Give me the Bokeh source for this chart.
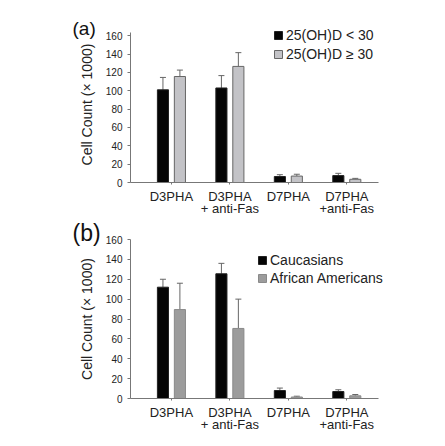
from bokeh.plotting import figure
from bokeh.models import (Whisker, TeeHead, ColumnDataSource, Legend, LegendItem,
                          Title, FixedTicker, Range1d)
from bokeh.layouts import column
from bokeh.embed import file_html
from bokeh.resources import INLINE

# ---------------- data ----------------
categories = ["D3PHA", "D3PHA\n+ anti-Fas", "D7PHA", "D7PHA\n+anti-Fas"]
y_ticks = [0, 20, 40, 60, 80, 100, 120, 140, 160]

a_low_vals = [101, 103, 6.5, 7.5]
a_low_err = [114.5, 116.5, 8.5, 10]
a_high_vals = [115.5, 126.5, 7, 3.5]
a_high_err = [122.5, 141.5, 9, 4.5]
a_names = ["25(OH)D < 30", "25(OH)D \u2265 30"]

b_cau_vals = [112, 125.5, 8, 7]
b_cau_err = [120, 136, 10.5, 8.8]
b_afr_vals = [89.5, 70.5, 1.5, 2.7]
b_afr_err = [116, 100, 2.3, 4]
b_names = ["Caucasians", "African Americans"]

FONT = "Liberation Sans"
OFF = 0.145
BW = 0.19


def make_panel(height, top, bottom, ymax, ybound, v1, e1, v2, e2, names, c2, c2line,
               leg_xy, leg_spacing, tag, tag_size, tag_standoff):
    p = figure(width=438, height=height, output_backend="svg",
               toolbar_location=None, title=None,
               x_range=Range1d(-0.2, 4.35), y_range=Range1d(0, ymax),
               min_border_left=130, min_border_right=42,
               min_border_top=top, min_border_bottom=bottom)
    p.outline_line_color = None
    p.xgrid.grid_line_color = None
    p.ygrid.grid_line_color = None
    p.background_fill_color = "white"

    p.add_layout(Title(text=tag, align="left", offset=-58,
                       standoff=tag_standoff, text_font=FONT,
                       text_font_size=tag_size, text_font_style="normal",
                       text_color="#111111"), "above")

    centers = [i + 0.5 for i in range(len(categories))]
    x1 = [c - OFF for c in centers]
    x2 = [c + OFF for c in centers]
    s1 = ColumnDataSource(dict(x=x1, top=v1, err=e1))
    s2 = ColumnDataSource(dict(x=x2, top=v2, err=e2))

    r1 = p.vbar(x="x", top="top", width=BW, source=s1,
                fill_color="#050505", line_color="#222222", line_width=1)
    r2 = p.vbar(x="x", top="top", width=BW, source=s2,
                fill_color=c2, line_color=c2line, line_width=1)
    for s in (s1, s2):
        w = Whisker(base="x", lower="top", upper="err", source=s,
                    line_color="#666666", line_width=1,
                    lower_head=None,
                    upper_head=TeeHead(size=6, line_color="#666666", line_width=1))
        p.add_layout(w)

    # axes
    p.yaxis.ticker = FixedTicker(ticks=y_ticks)
    p.yaxis.bounds = (0, ybound)
    p.yaxis.minor_tick_line_color = None
    p.yaxis.major_tick_out = 3
    p.yaxis.major_tick_in = 0
    p.yaxis.major_label_standoff = 5
    p.yaxis.major_label_text_font = FONT
    p.yaxis.major_label_text_font_size = "10px"
    p.yaxis.major_label_text_color = "#222222"
    p.yaxis.axis_line_color = "#777777"
    p.yaxis.major_tick_line_color = "#777777"
    p.yaxis.axis_label = "Cell Count (\u00d7 1000)"
    p.yaxis.axis_label_text_font = FONT
    p.yaxis.axis_label_text_font_style = "normal"
    p.yaxis.axis_label_text_font_size = "14px"
    p.yaxis.axis_label_text_color = "#222222"
    p.yaxis.axis_label_standoff = 8

    p.xaxis.ticker = FixedTicker(ticks=centers)
    p.xaxis.bounds = (-0.2, 4.05)
    p.xaxis.major_label_overrides = {c: lab for c, lab in zip(centers, categories)}
    p.xaxis.minor_tick_line_color = None
    p.xaxis.major_tick_out = 2
    p.xaxis.major_tick_in = 0
    p.xaxis.major_label_standoff = 4
    p.xaxis.major_label_text_font = FONT
    p.xaxis.major_label_text_font_size = "13px"
    p.xaxis.major_label_text_color = "#222222"
    p.xaxis.major_label_text_line_height = 0.85
    p.xaxis.axis_line_color = "#777777"
    p.xaxis.major_tick_line_color = "#777777"

    legend = Legend(items=[LegendItem(label=names[0], renderers=[r1]),
                           LegendItem(label=names[1], renderers=[r2])],
                    location=leg_xy, padding=0, margin=0,
                    spacing=leg_spacing, glyph_width=10, glyph_height=10,
                    label_height=10, label_standoff=3,
                    label_text_font=FONT, label_text_font_size="14px",
                    label_text_color="#222222",
                    border_line_color=None, background_fill_alpha=0)
    p.add_layout(legend)
    return p


pa = make_panel(219, 26, 35, 170, 164, a_low_vals, a_low_err, a_high_vals, a_high_err,
                a_names, "#c3c3c7", "#666666", (143, 120), 3,
                "(a)", "19px", -25)
pb = make_panel(221, 20, 42, 160, 160, b_cau_vals, b_cau_err, b_afr_vals, b_afr_err,
                b_names, "#9c9c9c", "#8a8a8a", (127, 112), 2,
                "(b)", "23px", -12)

layout = column(pa, pb)
open("out.html", "w").write(file_html(layout, INLINE))
